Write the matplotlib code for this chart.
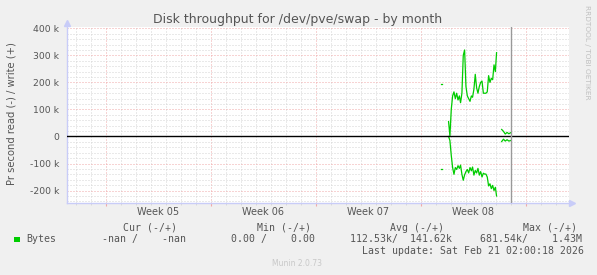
import matplotlib
matplotlib.use("Agg")
import matplotlib.pyplot as plt
import numpy as np
from matplotlib.patches import Rectangle
from matplotlib.ticker import FuncFormatter

# time axis in days, 0 = start of week 05
week_labels = ["Week 05", "Week 06", "Week 07", "Week 08"]
week_starts = [0, 7, 14, 21]
x_range = (-2.6, 30.89)
now_day = 27.02

# main series (bytes per second, in thousands)
t = [22.86, 22.95, 23.04, 23.13, 23.22, 23.31, 23.40, 23.49, 23.58, 23.66,
     23.75, 23.84, 23.93, 24.02, 24.11, 24.20, 24.29, 24.38, 24.46, 24.55,
     24.64, 24.73, 24.82, 24.91, 25.00, 25.09, 25.18, 25.26, 25.35, 25.44,
     25.53, 25.62, 25.71, 25.80, 25.89, 25.98, 26.06]
write_k = [55, 2, 100, 150, 165, 140, 160, 135, 150, 125,
           160, 300, 320, 185, 150, 140, 130, 150, 145, 175,
           230, 180, 160, 185, 200, 205, 160, 160, 160, 165,
           225, 200, 215, 210, 265, 240, 310]
read_k = [0, -15, -70, -115, -140, -115, -122, -108, -118, -106,
          -140, -162, -142, -130, -122, -135, -115, -127, -113, -143,
          -126, -135, -118, -143, -130, -150, -136, -139, -139, -150,
          -183, -175, -193, -181, -200, -188, -220]

# lone sample before the main block
t_dot = [22.37, 22.44]
write_dot = [193, 193]
read_dot = [-122, -122]

# short tail after the gap
t_tail = [26.40, 26.52, 26.64, 26.76, 26.88, 27.0]
write_tail = [26, 19, 9, 15, 10, 14]
read_tail = [-19, -10, -17, -12, -17, -15]

legend_head = ["Cur (-/+)", "Min (-/+)", "Avg (-/+)", "Max (-/+)"]
legend_vals = ["-nan /    -nan", "0.00 /    0.00", "112.53k/  141.62k", "681.54k/    1.43M"]

W, H = 597, 275
green = "#00cc00"
grid_red = "#f0a8a8"
grid_gray = "#d4d4d4"
axis_blue = "#c8ccf8"

fig = plt.figure(figsize=(W / 100, H / 100), dpi=100, facecolor="#f0f0f0")
left, right, top, bottom = 66.7, 569, 27.0, 202.7
ax = fig.add_axes([left / W, 1 - bottom / H, (right - left) / W, (bottom - top) / H])
ax.set_facecolor("white")


def px(x, y):
    return x / W, 1 - y / H


k = 1000
ax.plot(t, np.array(write_k) * k, color=green, lw=0.9)
ax.plot(t, np.array(read_k) * k, color=green, lw=0.9)
ax.plot(t_dot, np.array(write_dot) * k, color=green, lw=0.9)
ax.plot(t_dot, np.array(read_dot) * k, color=green, lw=0.9)
ax.plot(t_tail, np.array(write_tail) * k, color=green, lw=0.9)
ax.plot(t_tail, np.array(read_tail) * k, color=green, lw=0.9)

ax.axhline(0, color="black", lw=1.0, zorder=3)
ax.axvline(now_day, color="#999999", lw=1.0, zorder=3)

ax.set_xlim(*x_range)
ax.set_ylim(-245000, 405000)

ax.set_xticks(week_starts + [28])
ax.set_xticks(np.arange(-2, 31), minor=True)
ax.set_yticks(np.arange(-200000, 400001, 100000))
ax.set_yticks(np.arange(-240000, 400001, 20000), minor=True)
ax.yaxis.set_major_formatter(FuncFormatter(lambda v, p: "0" if v == 0 else f"{v / 1000:.0f} k"))

ax.grid(which="minor", color=grid_gray, ls=(0, (1, 2)), lw=0.72)
ax.grid(which="major", color=grid_red, ls=(0, (1, 2)), lw=0.72)
ax.set_axisbelow(True)

ax.tick_params(axis="x", which="major", length=2, color=grid_red, labelbottom=False)
ax.tick_params(axis="x", which="minor", length=1.5, color=grid_gray)
ax.tick_params(axis="y", which="both", length=0, pad=5.3, labelsize=6.7, labelcolor="#555555")

for s in ["top", "right"]:
    ax.spines[s].set_visible(False)
for s in ["left", "bottom"]:
    ax.spines[s].set_color(axis_blue)
    ax.spines[s].set_linewidth(1.0)

# axis arrows
ax.plot([0], [1.025], marker="^", ms=5, color=axis_blue, transform=ax.transAxes, clip_on=False)
ax.plot([1.006], [0], marker=">", ms=5, color=axis_blue, transform=ax.transAxes, clip_on=False)

for lab, ws in zip(week_labels, week_starts):
    ax.annotate(lab, xy=(ws + 3.5, 0), xycoords=("data", "axes fraction"),
                xytext=(0, -6.9), textcoords="offset points",
                ha="center", va="center", fontsize=7, color="#555555")

fig.text(*px(298, 19), "Disk throughput for /dev/pve/swap - by month",
         ha="center", va="center", fontsize=9, color="#555555")
fig.text(*px(12, 114), "Pr second read (-) / write (+)", rotation=90,
         ha="center", va="center", fontsize=7.2, color="#555555")
fig.text(*px(587, 52), "RRDTOOL / TOBI OETIKER", rotation=270,
         ha="center", va="center", fontsize=5.3, color="#c0c0c0")

mono = dict(family="DejaVu Sans Mono", fontsize=7.1, color="#555555", va="center", ha="left")
for lab, x in zip(legend_head, [123, 257, 390, 523]):
    fig.text(*px(x, 227.7), lab, **mono)
fig.patches.append(Rectangle(px(14, 242.3), 5.5 / W, 5.5 / H, transform=fig.transFigure,
                             facecolor=green, edgecolor="none"))
fig.text(*px(26.7, 239.3), "Bytes", **mono)
for val, x in zip(legend_vals, [101.7, 231, 350, 480]):
    fig.text(*px(x, 239.3), val, **mono)
fig.text(*px(361.7, 251), "Last update: Sat Feb 21 02:00:18 2026", **mono)
fig.text(*px(297, 264), "Munin 2.0.73", ha="center", va="center", fontsize=5.5, color="#c8c8c8")

fig.savefig("out.png", dpi=100, facecolor=fig.get_facecolor())
